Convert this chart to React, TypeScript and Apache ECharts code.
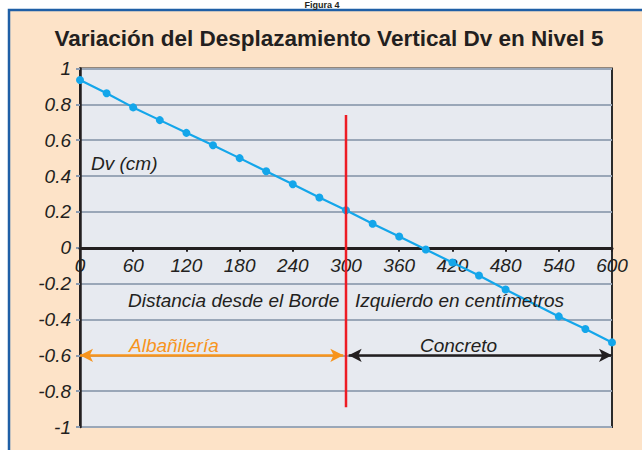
import React, { useEffect, useRef } from "react";
import * as echarts from "echarts";

const distances = [0, 30, 60, 90, 120, 150, 180, 210, 240, 270, 300, 330, 360, 390, 420, 450, 480, 540, 570, 600];
const dvValues = [0.936, 0.862, 0.783, 0.712, 0.641, 0.572, 0.5, 0.427, 0.354, 0.28, 0.209, 0.134, 0.063, -0.01, -0.082, -0.155, -0.233, -0.383, -0.453, -0.528];
const dividerX = [300, 300];
const dividerY = [0.74, -0.89];
const arrowLevel = -0.6;
const masonryRange = [0, 297];
const concreteRange = [303, 600];

const title = "Variación del Desplazamiento Vertical Dv en Nivel 5";
const figureLabel = "Figura 4";
const yAxisTitle = "Dv (cm)";
const xAxisTitleLeft = "Distancia desde el Borde";
const xAxisTitleRight = "Izquierdo en centímetros";
const masonryLabel = "Albañilería";
const concreteLabel = "Concreto";

export default function App() {
  const ref = useRef<HTMLDivElement>(null);
  useEffect(() => {
    if (!ref.current) return;
    const chart = echarts.init(ref.current, undefined, { renderer: "svg" });
    const font = "'Liberation Sans', Arial, sans-serif";
    const ink = "#231f20";
    const gridHeight = 358.5;
    chart.setOption({
      animation: false,
      backgroundColor: "#ffffff",
      textStyle: { fontFamily: font },
      graphic: [
        {
          type: "rect",
          z: -10,
          shape: { x: 9, y: 10, width: 640, height: 445 },
          style: { fill: "#fde3c8", stroke: "#1f5fa6", lineWidth: 2.5 },
        },
        {
          type: "text",
          x: 322,
          y: 0,
          style: { text: figureLabel, font: `bold 9px ${font}`, fill: ink, align: "center", verticalAlign: "top" },
        },
        {
          type: "text",
          x: 329,
          y: 38,
          style: { text: title, font: `bold 22.5px ${font}`, fill: ink, align: "center", verticalAlign: "middle" },
        },
        {
          type: "text",
          x: 91,
          y: 163,
          z: 10,
          style: { text: yAxisTitle, font: `italic 19px ${font}`, fill: ink, verticalAlign: "middle" },
        },
        {
          type: "text",
          x: 128,
          y: 300,
          z: 10,
          style: { text: xAxisTitleLeft, font: `italic 19px ${font}`, fill: ink, verticalAlign: "middle" },
        },
        {
          type: "text",
          x: 355,
          y: 300,
          z: 10,
          style: { text: xAxisTitleRight, font: `italic 19px ${font}`, fill: ink, verticalAlign: "middle" },
        },
        {
          type: "text",
          x: 129,
          y: 345,
          z: 10,
          style: { text: masonryLabel, font: `italic 19px ${font}`, fill: "#f7941d", verticalAlign: "middle" },
        },
        {
          type: "text",
          x: 420,
          y: 345,
          z: 10,
          style: { text: concreteLabel, font: `italic 19px ${font}`, fill: ink, verticalAlign: "middle" },
        },
      ],
      grid: {
        left: 80,
        right: 30,
        top: 68.5,
        height: gridHeight,
        show: true,
        backgroundColor: "#e7eaf0",
        borderColor: "#2b2b2b",
        borderWidth: 2,
      },
      xAxis: {
        type: "value",
        min: 0,
        max: 600,
        interval: 60,
        position: "bottom",
        offset: -gridHeight / 2,
        z: 3,
        axisLine: { onZero: false, lineStyle: { color: ink, width: 3 } },
        axisTick: { show: true, length: 4, lineStyle: { color: ink, width: 2 } },
        axisLabel: { fontSize: 19, fontStyle: "italic", color: ink, margin: 8, fontFamily: font },
        splitLine: { show: false },
      },
      yAxis: {
        type: "value",
        min: -1,
        max: 1,
        interval: 0.2,
        axisLine: { show: true, onZero: false, lineStyle: { color: ink, width: 2.5 } },
        axisTick: { show: true, length: 4, lineStyle: { color: "#8b9bb0", width: 2 } },
        axisLabel: { fontSize: 19, fontStyle: "italic", color: ink, margin: 9, fontFamily: font },
        splitLine: { show: true, lineStyle: { color: "#9aa7b8", width: 2 } },
      },
      series: [
        {
          type: "line",
          data: distances.map((d, i) => [d, dvValues[i]]),
          symbol: "circle",
          symbolSize: 8,
          showSymbol: true,
          itemStyle: { color: "#14a6ea" },
          lineStyle: { color: "#14a6ea", width: 2.2 },
          z: 4,
          markLine: {
            silent: true,
            symbol: ["arrow", "arrow"],
            symbolSize: [10, 13],
            label: { show: false },
            data: [
              [
                { coord: [masonryRange[0], arrowLevel], lineStyle: { color: "#f7941d", width: 2.5, type: "solid" } },
                { coord: [masonryRange[1], arrowLevel] },
              ],
              [
                { coord: [concreteRange[0], arrowLevel], lineStyle: { color: ink, width: 2.5, type: "solid" } },
                { coord: [concreteRange[1], arrowLevel] },
              ],
            ],
          },
        },
        {
          type: "line",
          data: dividerX.map((d, i) => [d, dividerY[i]]),
          symbol: "none",
          lineStyle: { color: "#ed1c24", width: 2.5 },
          z: 5,
        },
      ],
    });
    return () => chart.dispose();
  }, []);
  return <div ref={ref} style={{ position: "fixed", left: 0, top: 0, width: 642, height: 450 }} />;
}
